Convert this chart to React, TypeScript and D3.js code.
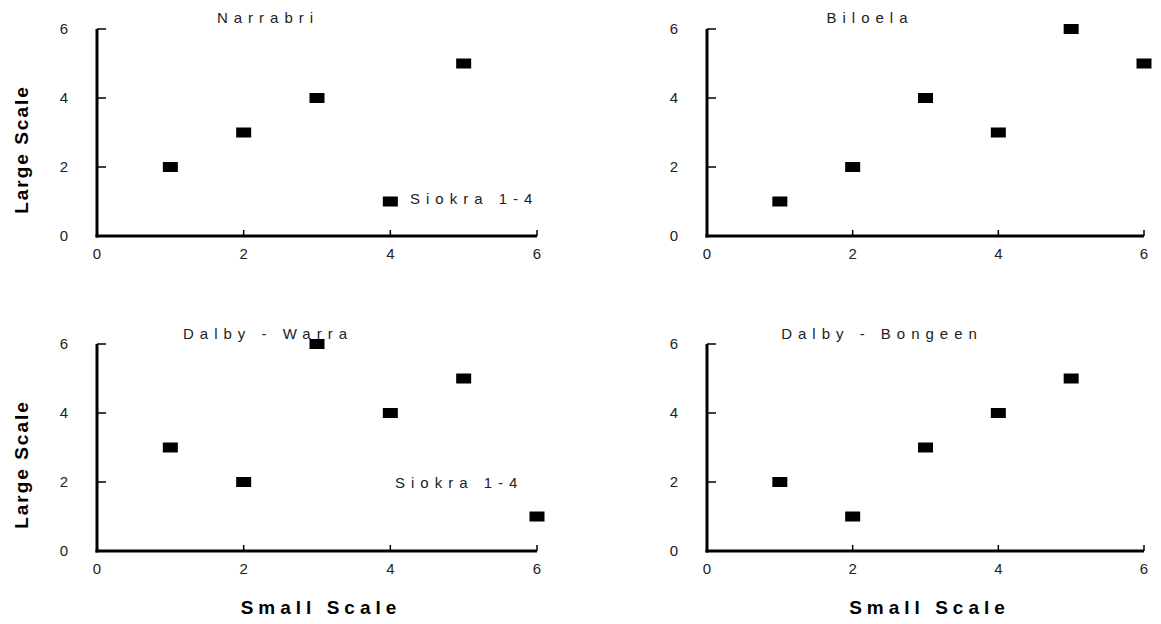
import React from "react";
import * as d3 from "d3";

const panelTitles = ["Narrabri", "Biloela", "Dalby - Warra", "Dalby - Bongeen"];
const narrabriX = [1, 2, 3, 4, 5];
const narrabriY = [2, 3, 4, 1, 5];
const biloelaX = [1, 2, 3, 4, 5, 6];
const biloelaY = [1, 2, 4, 3, 6, 5];
const warraX = [1, 2, 3, 4, 5, 6];
const warraY = [3, 2, 6, 4, 5, 1];
const bongeenX = [1, 2, 3, 4, 5];
const bongeenY = [2, 1, 3, 4, 5];
const axisTicks = [0, 2, 4, 6];
const legendLabel = "Siokra 1-4";
const xAxisTitle = "Small Scale";
const yAxisTitle = "Large Scale";

const seriesX = [narrabriX, biloelaX, warraX, bongeenX];
const seriesY = [narrabriY, biloelaY, warraY, bongeenY];

// layout (pixels)
const layout = [
  { x0: 97, x1: 537, y0: 236, y1: 29, titleX: 268, titleY: 23, legend: { x: 410, y: 204 }, yTitle: true, xTitle: false },
  { x0: 707, x1: 1144, y0: 236, y1: 29, titleX: 870, titleY: 23, legend: null, yTitle: false, xTitle: false },
  { x0: 97, x1: 537, y0: 551, y1: 344, titleX: 268, titleY: 339, legend: { x: 395, y: 488 }, yTitle: true, xTitle: true },
  { x0: 707, x1: 1144, y0: 551, y1: 344, titleX: 882, titleY: 339, legend: null, yTitle: false, xTitle: true },
];

const font = "'Liberation Sans', Arial, sans-serif";

function Panel({ idx }: { idx: number }) {
  const L = layout[idx];
  const x = d3.scaleLinear().domain([0, 6]).range([L.x0, L.x1]);
  const y = d3.scaleLinear().domain([0, 6]).range([L.y0, L.y1]);
  const xs = seriesX[idx];
  const ys = seriesY[idx];
  const mw = 15, mh = 10;
  return (
    <g>
      <line x1={x(0)} x2={x(0)} y1={y(0) + 1.5} y2={y(6)} stroke="#000" strokeWidth={3} />
      <line x1={x(0) - 1.5} x2={x(6)} y1={y(0)} y2={y(0)} stroke="#000" strokeWidth={3} />
      {axisTicks.filter((t) => t > 0).map((t) => (
        <line key={"yt" + t} x1={x(0)} x2={x(0) + 9} y1={y(t)} y2={y(t)} stroke="#000" strokeWidth={1.5} />
      ))}
      {axisTicks.filter((t) => t > 0).map((t) => (
        <line key={"xt" + t} x1={x(t)} x2={x(t)} y1={y(0)} y2={y(0) - 6} stroke="#000" strokeWidth={1.5} />
      ))}
      {axisTicks.map((t) => (
        <text key={"yl" + t} x={x(0) - 29} y={y(t) + 5} textAnchor="end" fontSize={15} fontFamily={font} fill="#222">
          {t}
        </text>
      ))}
      {axisTicks.map((t) => (
        <text key={"xl" + t} x={x(t)} y={y(0) + 23} textAnchor="middle" fontSize={15} fontFamily={font} fill="#222">
          {t}
        </text>
      ))}
      <text x={L.titleX} y={L.titleY} textAnchor="middle" fontSize={15} fontFamily={font} letterSpacing={6} fill="#222">
        {panelTitles[idx]}
      </text>
      {xs.map((v, i) => (
        <rect key={"p" + i} x={x(v) - mw / 2} y={y(ys[i]) - mh / 2} width={mw} height={mh} fill="#000" />
      ))}
      {L.legend && (
        <text x={L.legend.x} y={L.legend.y} fontSize={15} fontFamily={font} letterSpacing={6} fill="#222">
          {legendLabel}
        </text>
      )}
      {L.yTitle && (
        <text
          transform={`translate(28, ${(y(0) + y(6)) / 2 + 17}) rotate(-90)`}
          textAnchor="middle"
          fontSize={19}
          fontWeight="bold"
          fontFamily={font}
          letterSpacing={2}
          fill="#000"
        >
          {yAxisTitle}
        </text>
      )}
      {L.xTitle && (
        <text x={(x(0) + x(6)) / 2 + 4} y={614} textAnchor="middle" fontSize={19} fontWeight="bold" fontFamily={font} letterSpacing={5} fill="#000">
          {xAxisTitle}
        </text>
      )}
    </g>
  );
}

export default function App() {
  return (
    <svg width={1161} height={624} style={{ position: "absolute", left: 0, top: 0, background: "#fff" }}>
      <rect width={1161} height={624} fill="#fff" />
      {[0, 1, 2, 3].map((i) => (
        <Panel key={i} idx={i} />
      ))}
    </svg>
  );
}
